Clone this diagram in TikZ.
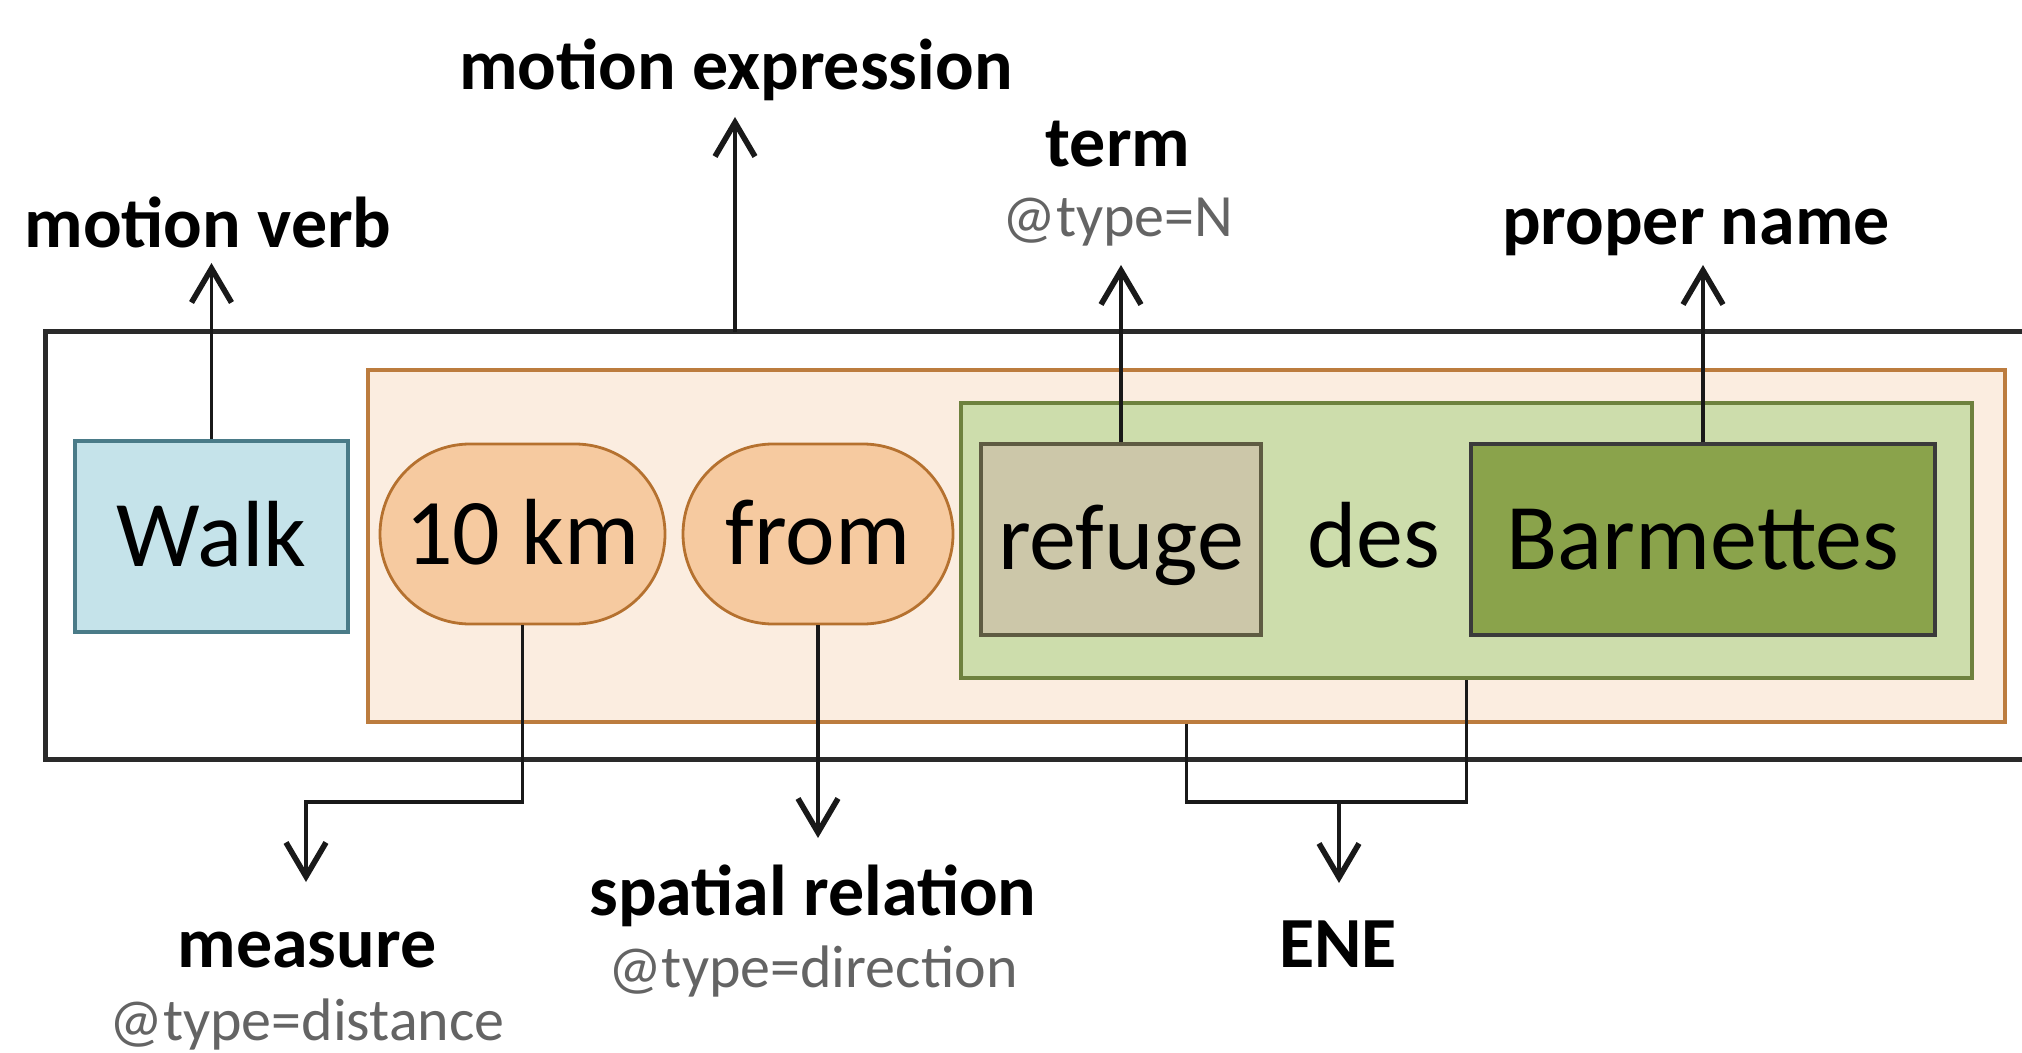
\documentclass[tikz,border=0pt]{standalone}
\usepackage{fontspec}
\setmainfont{Carlito}
\usetikzlibrary{arrows.meta,calc}
\definecolor{outerc}{HTML}{2A2A2A}
\definecolor{walkfill}{HTML}{C5E3EA}
\definecolor{walkdraw}{HTML}{4A7B88}
\definecolor{orfill}{HTML}{FBEDE0}
\definecolor{ordraw}{HTML}{BC7C3E}
\definecolor{stfill}{HTML}{F6CAA0}
\definecolor{stdraw}{HTML}{B5712F}
\definecolor{grfill}{HTML}{CDDDAC}
\definecolor{grdraw}{HTML}{6E813E}
\definecolor{refill}{HTML}{CCC7A9}
\definecolor{redraw}{HTML}{5E5B42}
\definecolor{bafill}{HTML}{8AA34B}
\definecolor{badraw}{HTML}{3A3A3A}
\definecolor{typegray}{HTML}{646464}
\begin{document}
\begin{tikzpicture}[x=0.5pt,y=-0.5pt,
  conn/.style={draw=black!90, line width=1.9pt},
  arr/.style={conn, -{Straight Barb[length=17pt,width=20pt,line width=2.8pt]}},
  boxtxt/.style={font=\fontsize{47}{50}\selectfont, inner sep=0pt, text height=30pt, text depth=0pt},
  sqbox/.style={boxtxt, rectangle, line width=1.6pt, minimum height=95.5pt},
  stadium/.style={boxtxt, rectangle, rounded corners=45pt, fill=stfill, draw=stdraw, line width=1.4pt, minimum height=90pt},
  lbl/.style={font=\bfseries\fontsize{36}{40}\selectfont, anchor=base, inner sep=0pt},
  typ/.style={font=\fontsize{30}{34}\selectfont, text=typegray, anchor=base, inner sep=0pt}]
\useasboundingbox (0,0) rectangle (2022,1053);
\fill[white] (0,0) rectangle (2022,1053);

% outer motion-expression box (open on the right, runs off the picture)
\draw[line width=2.5pt, draw=outerc] (2024,332) -- (45,332) -- (45,759) -- (2024,759);

% containers
\node[draw=ordraw, fill=orfill, line width=1.6pt, minimum width=818.5pt, minimum height=176pt, inner sep=0pt] (phrase) at (1186.5,546) {};
\node[draw=grdraw, fill=grfill, line width=1.6pt, minimum width=505.5pt, minimum height=137.5pt, inner sep=0pt] (green) at (1466.5,540.5) {};

% word boxes
\node[sqbox, fill=walkfill, draw=walkdraw, minimum width=136.5pt] (walk) at (211.5,536.5) {Walk};
\node[stadium, minimum width=142.5pt] (km) at (522.5,534) {10 km};
\node[stadium, minimum width=135pt] (from) at (818,534) {from};
\node[sqbox, fill=refill, draw=redraw, minimum width=140pt] (refuge) at (1121,539.5) {refuge};
\node[font=\fontsize{47}{50}\selectfont, anchor=base, inner sep=0pt] (des) at (1374,567) {des};
\node[sqbox, fill=bafill, draw=badraw, minimum width=232pt] (barm) at (1703,539.5) {Barmettes};

% labels
\node[lbl] (mverb) at (208,248) {motion verb};
\node[lbl] (mexpr) at (736,90) {motion expression};
\node[lbl] (term) at (1118,167) {term};
\node[typ] (termtype) at (1118,237) {@type=N};
\node[lbl] (pname) at (1696,245) {proper name};
\node[lbl] (measure) at (307,967) {measure};
\node[typ] (measuretype) at (307,1040) {@type=distance};
\node[lbl] (spatial) at (813,915) {spatial relation};
\node[typ] (spatialtype) at (813,987) {@type=direction};
\node[lbl] (ene) at (1338,967) {ENE};

% connector end points
\coordinate (mvtip) at (211.5,263);
\coordinate (metop) at (735,332);
\coordinate (metip) at (735,117);
\coordinate (termtip) at (1121,265);
\coordinate (pntip) at (1703,265);
\coordinate (mbend) at (306,802);
\coordinate (mtip) at (306,882);
\coordinate (srtip) at (818,838);
\coordinate (ej) at (1339,802);
\coordinate (enetip) at (1339,883);

% connectors
\draw[arr] (walk.north) -- (mvtip);
\draw[arr] (metop) -- (metip);
\draw[arr] (refuge.north) -- (termtip);
\draw[arr] (barm.north) -- (pntip);
\draw[arr] (km.south) |- (mbend) -- (mtip);
\draw[arr] (from.south) -- (srtip);
\draw[conn] (phrase.south) |- (green.south |- ej) -- (green.south);
\draw[arr] (ej) -- (enetip);
\end{tikzpicture}
\end{document}
